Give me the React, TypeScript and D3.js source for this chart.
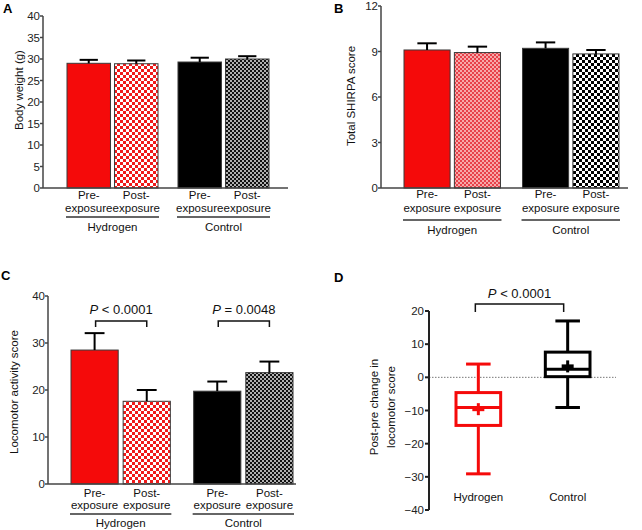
import React from "react";
import * as d3 from "d3";

// ---------- DATA ----------
const groups = ["Hydrogen", "Control"];
const phases = ["Pre", "Post"];
const phaseLine1 = ["Pre-", "Post-"];
const phaseLine2 = ["exposure", "exposure"];

const bodyWeightMean = [29.0, 28.9, 29.3, 30.0];
const bodyWeightTop = [29.8, 29.65, 30.3, 30.65];
const bodyWeightTicks = [0, 5, 10, 15, 20, 25, 30, 35, 40];

const shirpaMean = [9.1, 8.93, 9.21, 8.84];
const shirpaTop = [9.54, 9.32, 9.6, 9.1];
const shirpaTicks = [0, 3, 6, 9, 12];

const locoMean = [28.5, 17.6, 19.75, 23.7];
const locoTop = [32.1, 20.0, 21.8, 26.05];
const locoTicks = [0, 10, 20, 30, 40];
const locoPLabels = ["< 0.0001", "= 0.0048"];

const boxGroups = ["Hydrogen", "Control"];
const boxMin = [-29.1, -9.1];
const boxQ1 = [-14.5, 0.2];
const boxMedian = [-9.1, 2.4];
const boxQ3 = [-4.6, 7.6];
const boxMax = [4, 17];
const boxMean = [-9.6, 3.3];
const boxTicks = [-40, -30, -20, -10, 0, 10, 20];
const boxPLabel = "< 0.0001";

const FONT = "Liberation Sans, Arial, sans-serif";
const RED = "#f50a0a";
const AXIS = "#444";

type Fill = string;

function Defs() {
  return (
    <defs>
      <pattern id="redCheck" width="6" height="6" patternUnits="userSpaceOnUse">
        <rect width="6" height="6" fill="#fff" />
        <rect width="3" height="3" fill="#f01a1a" />
        <rect x="3" y="3" width="3" height="3" fill="#f01a1a" />
      </pattern>
      <pattern id="pinkCheck" width="4" height="4" patternUnits="userSpaceOnUse">
        <rect width="4" height="4" fill="#f7a9a9" />
        <rect width="2" height="2" fill="#e8414a" />
        <rect x="2" y="2" width="2" height="2" fill="#e8414a" />
      </pattern>
      <pattern id="grayCheck" width="4" height="4" patternUnits="userSpaceOnUse">
        <rect width="4" height="4" fill="#b0b0b0" />
        <rect width="2" height="2" fill="#111" />
        <rect x="2" y="2" width="2" height="2" fill="#111" />
      </pattern>
      <pattern id="bwCheck" width="6" height="6" patternUnits="userSpaceOnUse">
        <rect width="6" height="6" fill="#fff" />
        <rect width="3" height="3" fill="#000" />
        <rect x="3" y="3" width="3" height="3" fill="#000" />
      </pattern>
    </defs>
  );
}

interface BarPanelProps {
  letter: string;
  letterPos: [number, number];
  means: number[];
  tops: number[];
  ticks: number[];
  domain: [number, number];
  yRange: [number, number];
  axisX: number;
  axisRight: number;
  barRange: [number, number];
  groupPad: number;
  innerPad: number;
  fills: Fill[];
  title: string;
  titlePos: [number, number];
  labelY: [number, number, number, number];
  pLabels?: string[];
  pY?: number;
  bracketY?: [number, number];
  fontSize?: number;
}

function BarPanel(p: BarPanelProps) {
  const fs = p.fontSize ?? 11.5;
  const y = d3.scaleLinear().domain(p.domain).range(p.yRange);
  const gx = d3.scaleBand<string>().domain(groups).range(p.barRange).paddingInner(p.groupPad).paddingOuter(0);
  const ix = d3.scaleBand<string>().domain(phases).range([0, gx.bandwidth()]).paddingInner(p.innerPad).paddingOuter(0);
  const bars = groups.flatMap((g, gi) =>
    phases.map((ph, pi) => {
      const i = gi * 2 + pi;
      const x0 = (gx(g) ?? 0) + (ix(ph) ?? 0);
      return { i, g, gi, pi, x0, w: ix.bandwidth(), mean: p.means[i], top: p.tops[i] };
    })
  );
  const y0 = y(p.domain[0]);
  return (
    <g fontFamily={FONT}>
      <text x={p.letterPos[0]} y={p.letterPos[1]} fontSize={13} fontWeight="bold" fill="#000">
        {p.letter}
      </text>
      {bars.map((b) => (
        <rect key={b.i} x={b.x0} y={y(b.mean)} width={b.w} height={y0 - y(b.mean)}
          fill={p.fills[b.i]} stroke="#3a3a3a" strokeWidth={1} />
      ))}
      {bars.map((b) => {
        const cx = b.x0 + b.w / 2;
        const cw = b.w * 0.42;
        return (
          <g key={"e" + b.i} stroke="#000" strokeWidth={2}>
            <line x1={cx} x2={cx} y1={y(b.mean)} y2={y(b.top)} />
            <line x1={cx - cw / 2} x2={cx + cw / 2} y1={y(b.top)} y2={y(b.top)} />
          </g>
        );
      })}
      <line x1={p.axisX} x2={p.axisX} y1={y(p.domain[1])} y2={y0} stroke={AXIS} strokeWidth={1.5} />
      <line x1={p.axisX} x2={p.axisRight} y1={y0} y2={y0} stroke={AXIS} strokeWidth={1.5} />
      {p.ticks.map((t) => (
        <g key={t}>
          <line x1={p.axisX - 3} x2={p.axisX} y1={y(t)} y2={y(t)} stroke={AXIS} strokeWidth={1.5} />
          <text x={p.axisX - 3} y={y(t)} dy="0.35em" textAnchor="end" fontSize={fs} fill="#222">
            {t}
          </text>
        </g>
      ))}
      {bars.map((b) => (
        <g key={"l" + b.i} fontSize={fs} fill="#111" textAnchor="middle">
          <text x={b.x0 + b.w / 2} y={p.labelY[0]}>{phaseLine1[b.pi]}</text>
          <text x={b.x0 + b.w / 2} y={p.labelY[1]}>{phaseLine2[b.pi]}</text>
        </g>
      ))}
      {groups.map((g) => {
        const gl = gx(g) ?? 0;
        return (
          <g key={g}>
            <line x1={gl - 1} x2={gl + gx.bandwidth() + 1} y1={p.labelY[2]} y2={p.labelY[2]} stroke="#333" strokeWidth={1.5} />
            <text x={gl + gx.bandwidth() / 2} y={p.labelY[3]} textAnchor="middle" fontSize={fs} fill="#111">
              {g}
            </text>
          </g>
        );
      })}
      {p.pLabels && p.bracketY &&
        groups.map((g, gi) => {
          const a = bars[gi * 2];
          const c = bars[gi * 2 + 1];
          const xa = a.x0 + a.w / 2 + 1;
          const xc = c.x0 + c.w / 2;
          return (
            <g key={"p" + g}>
              <path d={`M${xa},${p.bracketY![1]}V${p.bracketY![0]}H${xc}V${p.bracketY![1]}`} fill="none" stroke="#111" strokeWidth={1.5} />
              <text x={(xa + xc) / 2} y={p.pY} textAnchor="middle" fontSize={13} fill="#111">
                <tspan fontStyle="italic">P</tspan> {p.pLabels![gi]}
              </text>
            </g>
          );
        })}
      <text transform={`translate(${p.titlePos[0]},${p.titlePos[1]}) rotate(-90)`} textAnchor="middle" dy="0.35em" fontSize={fs} fill="#111">
        {p.title}
      </text>
    </g>
  );
}

function BoxPanel() {
  const y = d3.scaleLinear().domain([-40, 20]).range([510, 311]);
  const x = d3.scaleBand<string>().domain(boxGroups).range([456, 590]).paddingInner(0.5).paddingOuter(0);
  const axisX = 429;
  const colors = [RED, "#000"];
  return (
    <g fontFamily={FONT}>
      <text x={334} y={282} fontSize={13} fontWeight="bold" fill="#000">D</text>
      <line x1={axisX} x2={616} y1={y(0)} y2={y(0)} stroke="#777" strokeWidth={1} strokeDasharray="1.5,1.5" />
      <line x1={axisX} x2={axisX} y1={y(20)} y2={y(-40)} stroke="#222" strokeWidth={2} />
      {boxTicks.map((t) => (
        <g key={t}>
          <line x1={axisX - 4} x2={axisX} y1={y(t)} y2={y(t)} stroke="#222" strokeWidth={2} />
          <text x={axisX - 5} y={y(t)} dy="0.35em" textAnchor="end" fontSize={11.5} fill="#222">
            {t < 0 ? "\u2212" + Math.abs(t) : t}
          </text>
        </g>
      ))}
      {boxGroups.map((g, i) => {
        const x0 = x(g) ?? 0;
        const w = x.bandwidth();
        const cx = x0 + w / 2;
        const cap = w * 0.55;
        const c = colors[i];
        const ms = 6;
        return (
          <g key={g} stroke={c} strokeWidth={3} fill="none">
            <line x1={cx} x2={cx} y1={y(boxMax[i])} y2={y(boxQ3[i])} />
            <line x1={cx} x2={cx} y1={y(boxQ1[i])} y2={y(boxMin[i])} />
            <line x1={cx - cap / 2} x2={cx + cap / 2} y1={y(boxMax[i])} y2={y(boxMax[i])} />
            <line x1={cx - cap / 2} x2={cx + cap / 2} y1={y(boxMin[i])} y2={y(boxMin[i])} />
            <rect x={x0} y={y(boxQ3[i])} width={w} height={y(boxQ1[i]) - y(boxQ3[i])} />
            <line x1={x0} x2={x0 + w} y1={y(boxMedian[i])} y2={y(boxMedian[i])} />
            <line x1={cx - ms} x2={cx + ms} y1={y(boxMean[i])} y2={y(boxMean[i])} strokeWidth={4} />
            <line x1={cx} x2={cx} y1={y(boxMean[i]) - ms} y2={y(boxMean[i]) + ms} strokeWidth={3} />
            <text x={cx} y={501} textAnchor="middle" fontSize={11.5} fill="#111" stroke="none">
              {g}
            </text>
          </g>
        );
      })}
      {(() => {
        const xa = (x(boxGroups[0]) ?? 0) + x.bandwidth() / 2 - 3;
        const xc = (x(boxGroups[1]) ?? 0) + x.bandwidth() / 2 - 4;
        return (
          <g>
            <path d={`M${xa},${312}V${304}H${xc}V${312}`} fill="none" stroke="#111" strokeWidth={1.5} />
            <text x={(xa + xc) / 2} y={298} textAnchor="middle" fontSize={13} fill="#111">
              <tspan fontStyle="italic">P</tspan> {boxPLabel}
            </text>
          </g>
        );
      })()}
      <text transform={`translate(383,407) rotate(-90)`} textAnchor="middle" fontSize={11.5} fill="#111">
        <tspan x={0} dy="-0.4em">Post-pre change in</tspan>
        <tspan x={0} dy="1.45em">locomotor score</tspan>
      </text>
    </g>
  );
}

export default function App() {
  return (
    <svg width={642} height={530} style={{ position: "absolute", left: 0, top: 0, background: "#fff" }}>
      <Defs />
      <rect width={642} height={530} fill="#fff" />
      <BarPanel
        letter="A" letterPos={[3, 13]}
        means={bodyWeightMean} tops={bodyWeightTop} ticks={bodyWeightTicks}
        domain={[0, 40]} yRange={[188, 16]} axisX={43} axisRight={288}
        barRange={[67, 269]} groupPad={0.18} innerPad={0.085}
        fills={[RED, "url(#redCheck)", "#000", "url(#grayCheck)"]}
        title="Body weight (g)" titlePos={[19, 90]}
        labelY={[199, 212, 217, 231]}
      />
      <BarPanel
        letter="B" letterPos={[334, 13]}
        means={shirpaMean} tops={shirpaTop} ticks={shirpaTicks}
        domain={[0, 12]} yRange={[188, 6]} axisX={381} axisRight={628}
        barRange={[404, 619]} groupPad={0.186} innerPad={0.085}
        fills={[RED, "url(#pinkCheck)", "#000", "url(#bwCheck)"]}
        title="Total SHIRPA score" titlePos={[351, 96]}
        labelY={[198, 212, 220, 234]}
      />
      <BarPanel
        letter="C" letterPos={[1, 280]}
        means={locoMean} tops={locoTop} ticks={locoTicks}
        domain={[0, 40]} yRange={[484, 296]} axisX={48} axisRight={296}
        barRange={[71, 293]} groupPad={0.19} innerPad={0.095}
        fills={[RED, "url(#redCheck)", "#000", "url(#grayCheck)"]}
        title="Locomotor activity score" titlePos={[14, 392]}
        labelY={[497, 509, 514, 527]}
        pLabels={locoPLabels} pY={314} bracketY={[321, 327]}
      />
      <BoxPanel />
    </svg>
  );
}
